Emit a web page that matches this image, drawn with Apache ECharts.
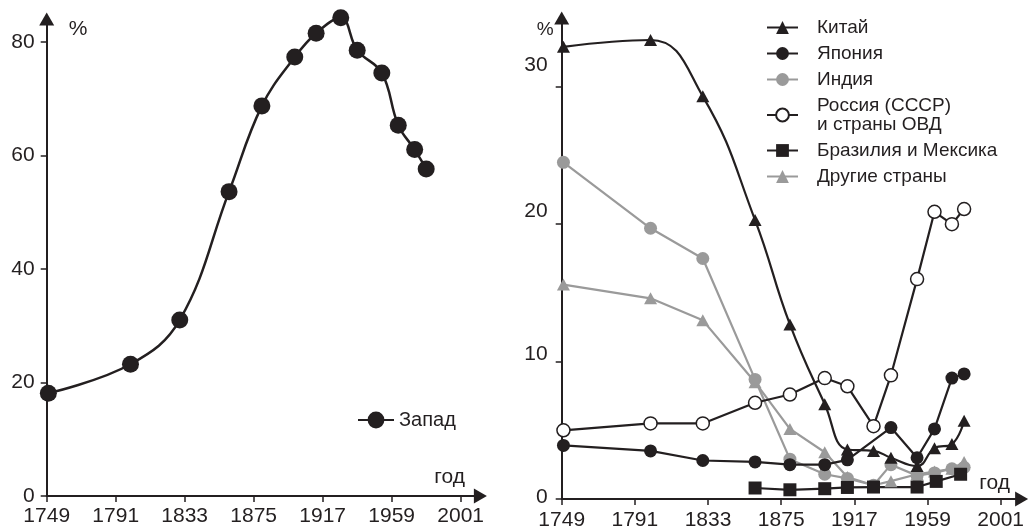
<!DOCTYPE html>
<html>
<head>
<meta charset="utf-8">
<script src="https://cdn.jsdelivr.net/npm/echarts@6/dist/echarts.min.js"></script>
<style>html,body{margin:0;padding:0;background:#fff}#c{width:1032px;height:531px}</style>
</head>
<body>
<div id="c"></div>
<script>
// ---- data ----
var years = [1750, 1800, 1830, 1860, 1880, 1900, 1913, 1928, 1938, 1953, 1963, 1973, 1980];
var west   = [18.1, 23.2, 31.0, 53.6, 68.7, 77.3, 81.5, 84.2, 78.5, 74.5, 65.3, 61.0, 57.6];
var china  = [32.9, 33.4, 29.3, 20.3, 12.7, 6.9, 3.6, 3.5, 3.0, 2.4, 3.7, 4.0, 5.7];
var japan  = [3.9, 3.5, 2.8, 2.7, 2.5, 2.5, 2.85, null, 5.2, 3.0, 5.1, 8.8, 9.1];
var india  = [24.5, 19.7, 17.5, 8.7, 2.9, 1.8, 1.5, 1.0, 2.5, 1.7, 1.9, 2.2, 2.3];
var russia = [5.0, 5.5, 5.5, 7.0, 7.6, 8.8, 8.2, 5.3, 9.0, 16.0, 20.9, 20.0, 21.1];
var other  = [15.6, 14.6, 13.0, 8.5, 5.1, 3.4, 1.6, 1.0, 1.3, 1.8, 2.0, 2.2, 2.7];
var brazilYears = [1860, 1880, 1900, 1913, 1928, 1953, 1964, 1978];
var brazil      = [0.8, 0.67, 0.75, 0.84, 0.87, 0.87, 1.28, 1.8];
var xTicks = [1749, 1791, 1833, 1875, 1917, 1959, 2001];
var yTicksLeft = [0, 20, 40, 60, 80];
var yTicksRight = [0, 10, 20, 30];
var names = {
  west: 'Запад', china: 'Китай', japan: 'Япония', india: 'Индия',
  russia: 'Россия (СССР)\nи страны ОВД', brazil: 'Бразилия и Мексика', other: 'Другие страны'
};
var unitLabel = '%';
var xName = 'год';

// ---- styling ----
var BLACK = '#231f20', GRAY = '#9a9a9a', FONT = '"Liberation Sans", Arial, sans-serif';

function pairs(xs, ys) { return xs.map(function (x, i) { return [x, ys[i]]; }); }

function xAxisCfg(idx, margin) {
  return {
    type: 'value', gridIndex: idx, min: 1749, max: 2013,
    axisLine: { show: true, symbol: ['none', 'triangle'], symbolSize: [15, 13], lineStyle: { color: BLACK, width: 2 } },
    axisTick: { show: true, customValues: xTicks, length: 6, lineStyle: { color: BLACK, width: 1.5 } },
    axisLabel: { customValues: xTicks, fontSize: 21, fontFamily: FONT, color: BLACK, margin: margin,
      formatter: function (v) { return String(v); } },
    splitLine: { show: false }
  };
}

var rich = {};
[[0, 4], [10, 14], [20, 26], [30, 44]].forEach(function (p) {
  rich['s' + p[0]] = { fontSize: 21, fontFamily: FONT, color: BLACK, padding: [0, 0, p[1], 0] };
});

var option = {
  animation: false,
  backgroundColor: '#fff',
  textStyle: { fontFamily: FONT, color: BLACK },
  grid: [
    { left: 46.7, top: 19, width: 433.7, height: 477 },
    { left: 561.7, top: 18, width: 459.9, height: 481.3 }
  ],
  xAxis: [ xAxisCfg(0, 10), xAxisCfg(1, 11) ],
  yAxis: [
    {
      type: 'value', gridIndex: 0, min: 0, max: 84,
      axisLine: { show: true, symbol: ['none', 'triangle'], symbolSize: [15, 13], lineStyle: { color: BLACK, width: 2 } },
      axisTick: { show: true, customValues: yTicksLeft, length: 6, lineStyle: { color: BLACK, width: 1.5 } },
      axisLabel: { customValues: yTicksLeft, fontSize: 21, fontFamily: FONT, color: BLACK, margin: 12 },
      splitLine: { show: false },
      name: unitLabel, nameLocation: 'end', nameGap: -10,
      nameTextStyle: { fontSize: 21, fontFamily: FONT, color: BLACK, align: 'left', verticalAlign: 'middle', padding: [0, 0, 0, 22] }
    },
    {
      type: 'value', gridIndex: 1, min: 0, max: 35,
      axisLine: { show: true, symbol: ['none', 'triangle'], symbolSize: [15, 13], lineStyle: { color: BLACK, width: 2 } },
      axisTick: { show: true, customValues: yTicksRight, length: 6, lineStyle: { color: BLACK, width: 1.5 } },
      axisLabel: {
        customValues: yTicksRight, fontSize: 21, fontFamily: FONT, color: BLACK, margin: 14,
        formatter: function (v) { return '{s' + v + '|' + v + '}'; }, rich: rich
      },
      splitLine: { show: false },
      name: unitLabel, nameLocation: 'end', nameGap: -12,
      nameTextStyle: { fontSize: 19, fontFamily: FONT, color: BLACK, align: 'right', verticalAlign: 'middle', padding: [0, 8, 0, 0] }
    }
  ],
  graphic: [
    { type: 'text', right: 1032 - 465, top: 467, silent: true,
      style: { text: xName, font: '21px ' + FONT, fill: BLACK } },
    { type: 'text', right: 1032 - 1010, top: 473, silent: true,
      style: { text: xName, font: '21px ' + FONT, fill: BLACK } }
  ],
  legend: [
    {
      data: [names.west], left: 357, top: 410, itemWidth: 36, itemHeight: 21, padding: 0,
      selectedMode: false, textStyle: { fontSize: 20, fontFamily: FONT, color: BLACK }
    },
    {
      data: [names.china, names.japan, names.india, names.russia, names.brazil, names.other],
      orient: 'vertical', left: 766, top: 18, itemWidth: 31, itemHeight: 16, itemGap: 7, padding: 0,
      selectedMode: false,
      textStyle: { fontSize: 19, lineHeight: 19, fontFamily: FONT, color: BLACK, padding: [0, 0, 0, 14] }
    }
  ],
  series: [
    {
      name: names.west, type: 'line', xAxisIndex: 0, yAxisIndex: 0, clip: false, smooth: 0.4,
      data: pairs(years, west), symbol: 'circle', symbolSize: 17,
      lineStyle: { color: BLACK, width: 2.5 }, itemStyle: { color: BLACK }
    },
    {
      name: names.other, type: 'line', xAxisIndex: 1, yAxisIndex: 1, clip: false,
      data: pairs(years, other), symbol: 'triangle', symbolSize: [13, 12],
      lineStyle: { color: GRAY, width: 2.2 }, itemStyle: { color: GRAY }
    },
    {
      name: names.india, type: 'line', xAxisIndex: 1, yAxisIndex: 1, clip: false,
      data: pairs(years, india), symbol: 'circle', symbolSize: 13,
      lineStyle: { color: GRAY, width: 2.2 }, itemStyle: { color: GRAY }
    },
    {
      name: names.brazil, type: 'line', xAxisIndex: 1, yAxisIndex: 1, clip: false,
      data: pairs(brazilYears, brazil), symbol: 'rect', symbolSize: 13,
      lineStyle: { color: BLACK, width: 2.2 }, itemStyle: { color: BLACK }
    },
    {
      name: names.russia, type: 'line', xAxisIndex: 1, yAxisIndex: 1, clip: false,
      data: pairs(years, russia), symbol: 'circle', symbolSize: 13,
      lineStyle: { color: BLACK, width: 2.2 }, itemStyle: { color: '#fff', borderColor: BLACK, borderWidth: 1.5 }
    },
    {
      name: names.japan, type: 'line', xAxisIndex: 1, yAxisIndex: 1, clip: false, connectNulls: true,
      data: pairs(years, japan), symbol: 'circle', symbolSize: 13,
      lineStyle: { color: BLACK, width: 2.2 }, itemStyle: { color: BLACK }
    },
    {
      name: names.china, type: 'line', xAxisIndex: 1, yAxisIndex: 1, clip: false, smooth: 0.45,
      data: pairs(years, china), symbol: 'triangle', symbolSize: [13, 12],
      lineStyle: { color: BLACK, width: 2.2 }, itemStyle: { color: BLACK }
    }
  ]
};
var chart = echarts.init(document.getElementById('c'), null, { renderer: 'canvas' });
chart.setOption(option);
</script>
</body>
</html>
